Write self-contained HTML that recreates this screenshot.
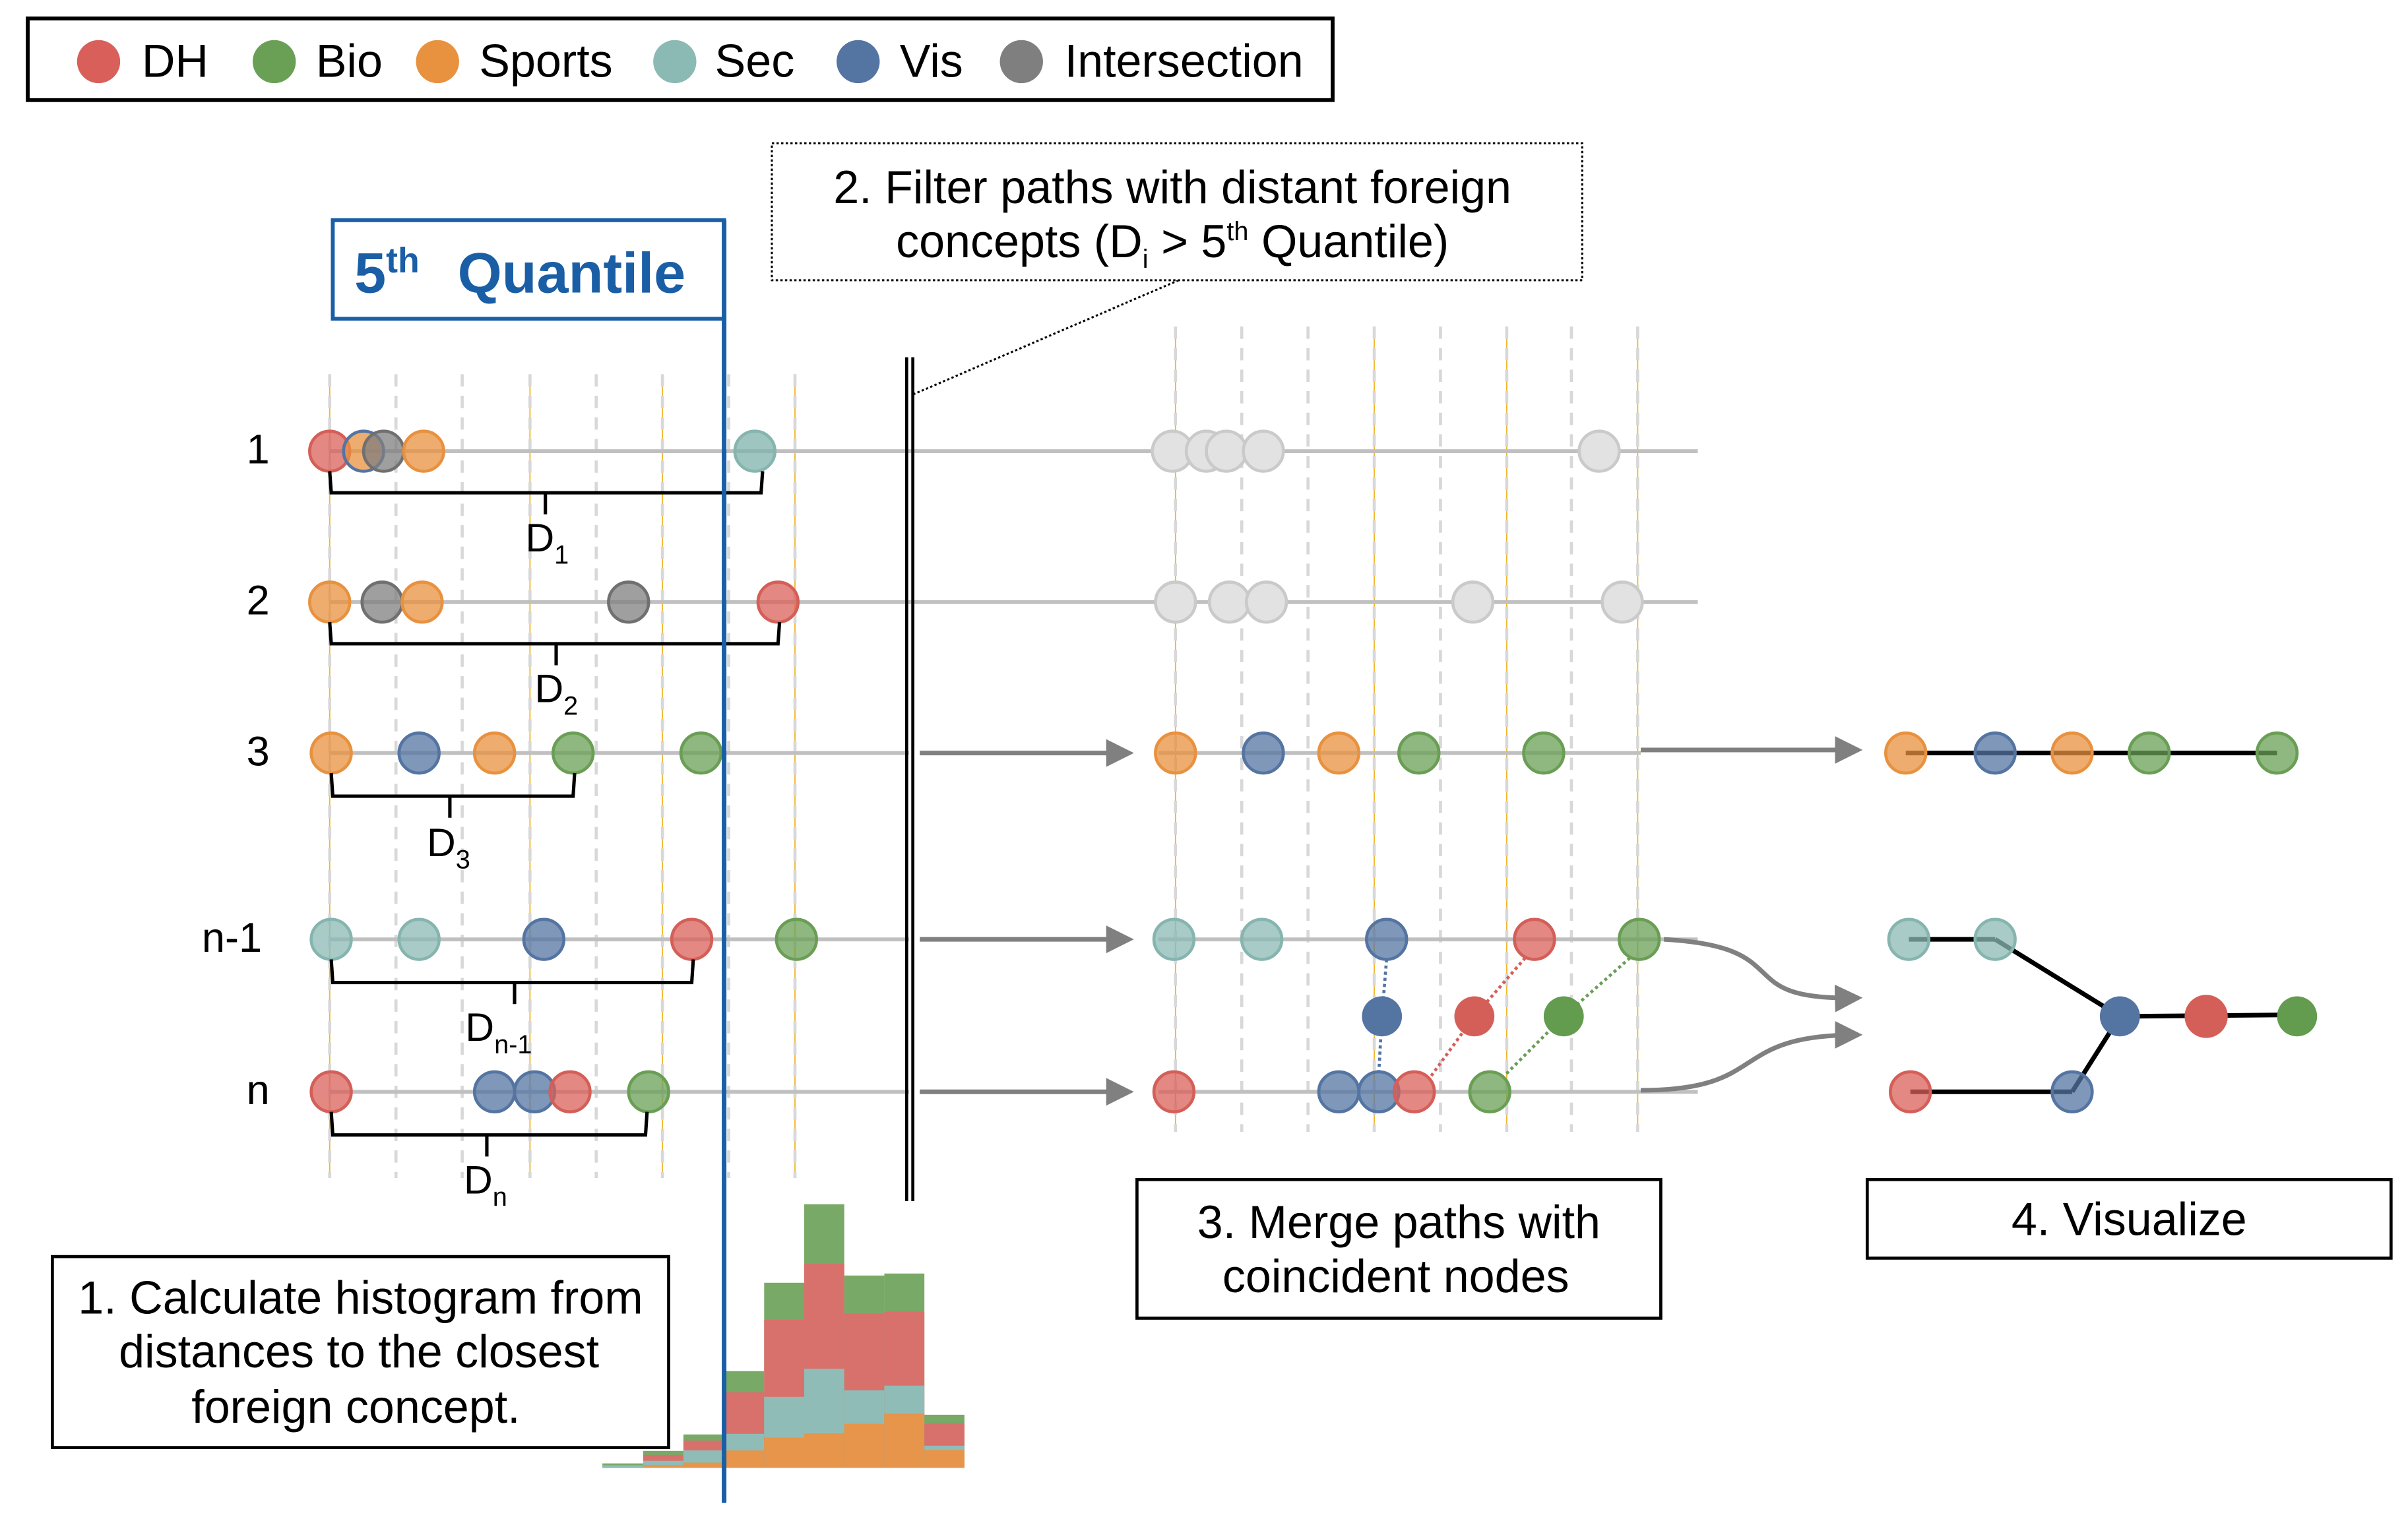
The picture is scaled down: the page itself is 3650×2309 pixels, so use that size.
<!DOCTYPE html>
<html><head><meta charset="utf-8"><style>
html,body{margin:0;padding:0;background:#fff;}
svg{display:block;}
text{font-family:"Liberation Sans",sans-serif;fill:#000;}
</style></head><body>
<svg width="3650" height="2309" viewBox="0 0 1563 989" preserveAspectRatio="none" xmlns="http://www.w3.org/2000/svg">
<defs>
<marker id="ah" markerWidth="6" markerHeight="6" refX="5" refY="3" orient="auto" markerUnits="strokeWidth"><path d="M0,0 L6,3 L0,6 z" fill="#808080"/></marker>
</defs>
<!-- legend -->
<rect x="18" y="12" width="847" height="53" fill="#fff" stroke="#000" stroke-width="2.5"/>
<g font-size="30">
<circle cx="64" cy="40" r="14" fill="#d9605a"/><text x="92" y="50">DH</text>
<circle cx="178" cy="40" r="14" fill="#6aa055"/><text x="205" y="50">Bio</text>
<circle cx="284" cy="40" r="14" fill="#e8913f"/><text x="311" y="50">Sports</text>
<circle cx="438" cy="40" r="14" fill="#8bbab5"/><text x="464" y="50">Sec</text>
<circle cx="557" cy="40" r="14" fill="#5474a2"/><text x="584" y="50">Vis</text>
<circle cx="663" cy="40" r="14" fill="#7f7f7f"/><text x="691" y="50">Intersection</text>
</g>
<!-- vertical grid -->
<g stroke="#f0b830" stroke-width="0.8"><line x1="214" y1="243" x2="214" y2="765"/><line x1="344" y1="243" x2="344" y2="765"/><line x1="430" y1="243" x2="430" y2="765"/><line x1="516" y1="243" x2="516" y2="765"/>
<line x1="763" y1="212" x2="763" y2="735"/><line x1="892" y1="212" x2="892" y2="735"/><line x1="978" y1="212" x2="978" y2="735"/><line x1="1063" y1="212" x2="1063" y2="735"/></g>
<g stroke="#d8d8d8" stroke-width="2" stroke-dasharray="8,6">
<line x1="214" y1="243" x2="214" y2="765"/><line x1="257" y1="243" x2="257" y2="765"/><line x1="300" y1="243" x2="300" y2="765"/><line x1="344" y1="243" x2="344" y2="765"/><line x1="387" y1="243" x2="387" y2="765"/><line x1="430" y1="243" x2="430" y2="765"/><line x1="473" y1="243" x2="473" y2="765"/><line x1="516" y1="243" x2="516" y2="765"/>
<line x1="763" y1="212" x2="763" y2="735"/><line x1="806" y1="212" x2="806" y2="735"/><line x1="849" y1="212" x2="849" y2="735"/><line x1="892" y1="212" x2="892" y2="735"/><line x1="935" y1="212" x2="935" y2="735"/><line x1="978" y1="212" x2="978" y2="735"/><line x1="1020" y1="212" x2="1020" y2="735"/><line x1="1063" y1="212" x2="1063" y2="735"/>
</g>
<!-- horizontal path lines -->
<g stroke="#c0c0c0" stroke-width="2.5">
<line x1="214" y1="293" x2="1102" y2="293"/><line x1="214" y1="391" x2="1102" y2="391"/>
<line x1="214" y1="489" x2="590" y2="489"/><line x1="752" y1="489" x2="1065" y2="489"/>
<line x1="214" y1="610" x2="590" y2="610"/><line x1="752" y1="610" x2="1102" y2="610"/>
<line x1="214" y1="709" x2="590" y2="709"/><line x1="752" y1="709" x2="1102" y2="709"/>
</g>
<g font-size="27">
<text x="160" y="301">1</text><text x="160" y="399">2</text><text x="160" y="497">3</text><text x="131" y="618">n-1</text><text x="160" y="717">n</text>
</g>
<!-- circles -->
<g stroke-width="2" fill-opacity="0.75">
<circle cx="214" cy="293" r="13" fill="#d9605a" stroke="#d45f58"/>
<circle cx="236" cy="293" r="13" fill="#e8913f" stroke="#5474a2"/>
<circle cx="249" cy="293" r="13" fill="#7f7f7f" stroke="#707070"/>
<circle cx="275" cy="293" r="13" fill="#e8913f" stroke="#e8913f"/>
<circle cx="490" cy="293" r="13" fill="#7fb2ac" stroke="#86b5b0"/>
<circle cx="214" cy="391" r="13" fill="#e8913f" stroke="#e8913f"/>
<circle cx="248" cy="391" r="13" fill="#7f7f7f" stroke="#707070"/>
<circle cx="274" cy="391" r="13" fill="#e8913f" stroke="#e8913f"/>
<circle cx="408" cy="391" r="13" fill="#7f7f7f" stroke="#707070"/>
<circle cx="505" cy="391" r="13" fill="#d9605a" stroke="#d45f58"/>
<circle cx="215" cy="489" r="13" fill="#e8913f" stroke="#e8913f"/>
<circle cx="272" cy="489" r="13" fill="#5474a2" stroke="#5474a2"/>
<circle cx="321" cy="489" r="13" fill="#e8913f" stroke="#e8913f"/>
<circle cx="372" cy="489" r="13" fill="#6aa055" stroke="#6a9e55"/>
<circle cx="455" cy="489" r="13" fill="#6aa055" stroke="#6a9e55"/>
<circle cx="215" cy="610" r="13" fill="#8bbab5" stroke="#86b5b0"/>
<circle cx="272" cy="610" r="13" fill="#8bbab5" stroke="#86b5b0"/>
<circle cx="353" cy="610" r="13" fill="#5474a2" stroke="#5474a2"/>
<circle cx="449" cy="610" r="13" fill="#d9605a" stroke="#d45f58"/>
<circle cx="517" cy="610" r="13" fill="#6aa055" stroke="#6a9e55"/>
<circle cx="215" cy="709" r="13" fill="#d9605a" stroke="#d45f58"/>
<circle cx="321" cy="709" r="13" fill="#5474a2" stroke="#5474a2"/>
<circle cx="347" cy="709" r="13" fill="#5474a2" stroke="#5474a2"/>
<circle cx="370" cy="709" r="13" fill="#d9605a" stroke="#d45f58"/>
<circle cx="421" cy="709" r="13" fill="#6aa055" stroke="#6a9e55"/>
<g fill="#e2e2e2" stroke="#cacaca" fill-opacity="1">
<circle cx="761" cy="293" r="13"/><circle cx="783" cy="293" r="13"/><circle cx="796" cy="293" r="13"/><circle cx="820" cy="293" r="13"/><circle cx="1038" cy="293" r="13"/>
<circle cx="763" cy="391" r="13"/><circle cx="798" cy="391" r="13"/><circle cx="822" cy="391" r="13"/><circle cx="956" cy="391" r="13"/><circle cx="1053" cy="391" r="13"/>
</g>
<circle cx="763" cy="489" r="13" fill="#e8913f" stroke="#e8913f"/>
<circle cx="820" cy="489" r="13" fill="#5474a2" stroke="#5474a2"/>
<circle cx="869" cy="489" r="13" fill="#e8913f" stroke="#e8913f"/>
<circle cx="921" cy="489" r="13" fill="#6aa055" stroke="#6a9e55"/>
<circle cx="1002" cy="489" r="13" fill="#6aa055" stroke="#6a9e55"/>
<circle cx="762" cy="610" r="13" fill="#8bbab5" stroke="#86b5b0"/>
<circle cx="819" cy="610" r="13" fill="#8bbab5" stroke="#86b5b0"/>
<circle cx="900" cy="610" r="13" fill="#5474a2" stroke="#5474a2"/>
<circle cx="996" cy="610" r="13" fill="#d9605a" stroke="#d45f58"/>
<circle cx="1064" cy="610" r="13" fill="#6aa055" stroke="#6a9e55"/>
<circle cx="762" cy="709" r="13" fill="#d9605a" stroke="#d45f58"/>
<circle cx="869" cy="709" r="13" fill="#5474a2" stroke="#5474a2"/>
<circle cx="895" cy="709" r="13" fill="#5474a2" stroke="#5474a2"/>
<circle cx="918" cy="709" r="13" fill="#d9605a" stroke="#d45f58"/>
<circle cx="967" cy="709" r="13" fill="#6aa055" stroke="#6a9e55"/>
</g>
<g stroke-width="2" stroke-dasharray="2,2" fill="none">
<polyline points="900,623 897,660 895,696" stroke="#5474a2"/>
<polyline points="990,622 957,660 928,700" stroke="#d45f58"/>
<polyline points="1058,622 1015,660 975,700" stroke="#6a9e55"/>
</g>
<circle cx="897" cy="660" r="13" fill="#5474a2"/>
<circle cx="957" cy="660" r="13" fill="#d45f58"/>
<circle cx="1015" cy="660" r="13" fill="#639b4f"/>
<!-- braces -->
<g stroke="#000" stroke-width="2.2" fill="none">
<path d="M214,306 L215,320 L494,320 L495,306 M354,320 L354,334"/>
<path d="M214,404 L215,418 L505,418 L506,404 M361,418 L361,432"/>
<path d="M215,502 L216,517 L372,517 L373,502 M292,517 L292,531"/>
<path d="M215,623 L216,638 L449,638 L450,623 M334,638 L334,652"/>
<path d="M215,722 L216,737 L419,737 L420,722 M316,737 L316,751"/>
</g>
<g font-size="26">
<text x="341" y="358">D<tspan font-size="17" dy="8">1</tspan></text>
<text x="347" y="456">D<tspan font-size="17" dy="8">2</tspan></text>
<text x="277" y="556">D<tspan font-size="17" dy="8">3</tspan></text>
<text x="302" y="676">D<tspan font-size="17" dy="8">n-1</tspan></text>
<text x="301" y="775">D<tspan font-size="17" dy="8">n</tspan></text>
</g>
<!-- quantile -->
<rect x="216" y="143" width="254" height="64" fill="#fff" stroke="#1a5ea6" stroke-width="2.5"/>
<text x="230" y="190" font-size="37" font-weight="bold" style="fill:#1a5ea6">5<tspan font-size="23" dy="-13">th</tspan><tspan dy="13" x="297">Quantile</tspan></text>
<!-- histogram -->
<g>
<rect x="391" y="950.3" width="26.5" height="3" fill="#79a966"/><rect x="391" y="951.5" width="26.5" height="1.7" fill="#90bcb7"/>
<rect x="417.5" y="942.2" width="26.1" height="11" fill="#79a966"/><rect x="417.5" y="944.8" width="26.1" height="8.4" fill="#d8706b"/><rect x="417.5" y="948.6" width="26.1" height="4.6" fill="#90bcb7"/><rect x="417.5" y="951.5" width="26.1" height="1.7" fill="#e6954a"/>
<rect x="443.6" y="931.5" width="26.2" height="21.7" fill="#79a966"/><rect x="443.6" y="935.5" width="26.2" height="17.7" fill="#d8706b"/><rect x="443.6" y="941.8" width="26.2" height="11.4" fill="#90bcb7"/><rect x="443.6" y="949.8" width="26.2" height="3.4" fill="#e6954a"/>
<rect x="469.8" y="890.4" width="26.2" height="62.8" fill="#79a966"/><rect x="469.8" y="904.1" width="26.2" height="49.1" fill="#d8706b"/><rect x="469.8" y="931.1" width="26.2" height="22.1" fill="#90bcb7"/><rect x="469.8" y="941.9" width="26.2" height="11.3" fill="#e6954a"/>
<rect x="496" y="833" width="26" height="120.2" fill="#79a966"/><rect x="496" y="857.1" width="26" height="96.1" fill="#d8706b"/><rect x="496" y="907.1" width="26" height="46.1" fill="#90bcb7"/><rect x="496" y="933.6" width="26" height="19.6" fill="#e6954a"/>
<rect x="522" y="782" width="26" height="171.2" fill="#79a966"/><rect x="522" y="820.7" width="26" height="132.5" fill="#d8706b"/><rect x="522" y="888.8" width="26" height="64.4" fill="#90bcb7"/><rect x="522" y="930.8" width="26" height="22.4" fill="#e6954a"/>
<rect x="548" y="828.3" width="26" height="124.9" fill="#79a966"/><rect x="548" y="853" width="26" height="100.2" fill="#d8706b"/><rect x="548" y="902.8" width="26" height="50.4" fill="#90bcb7"/><rect x="548" y="924.6" width="26" height="28.6" fill="#e6954a"/>
<rect x="574" y="827" width="26" height="126.2" fill="#79a966"/><rect x="574" y="851.8" width="26" height="101.4" fill="#d8706b"/><rect x="574" y="899.8" width="26" height="53.4" fill="#90bcb7"/><rect x="574" y="917.9" width="26" height="35.3" fill="#e6954a"/>
<rect x="600" y="918.7" width="26" height="34.5" fill="#79a966"/><rect x="600" y="924.4" width="26" height="28.8" fill="#d8706b"/><rect x="600" y="938.8" width="26" height="14.4" fill="#90bcb7"/><rect x="600" y="941.6" width="26" height="11.6" fill="#e6954a"/>
</g>
<line x1="470" y1="143" x2="470" y2="976" stroke="#1a5ea6" stroke-width="3"/>
<line x1="588.5" y1="232" x2="588.5" y2="780" stroke="#000" stroke-width="2"/>
<line x1="592.5" y1="232" x2="592.5" y2="780" stroke="#000" stroke-width="2"/>
<line x1="765" y1="182" x2="593" y2="256" stroke="#000" stroke-width="1.3" stroke-dasharray="1.5,1.5"/>
<rect x="501" y="93" width="526" height="89" fill="#fff" stroke="#000" stroke-width="1.3" stroke-dasharray="1.5,1.5"/>
<g font-size="30" text-anchor="middle">
<text x="761" y="132">2. Filter paths with distant foreign</text>
<text x="761" y="167">concepts (D<tspan font-size="17" dy="7">i</tspan><tspan dy="-7"> &gt; 5</tspan><tspan font-size="17" dy="-11">th</tspan><tspan dy="11"> Quantile)</tspan></text>
</g>
<g stroke="#808080" stroke-width="3" fill="none">
<line x1="597" y1="489" x2="733" y2="489" marker-end="url(#ah)"/>
<line x1="597" y1="610" x2="733" y2="610" marker-end="url(#ah)"/>
<line x1="597" y1="709" x2="733" y2="709" marker-end="url(#ah)"/>
<line x1="1065" y1="487" x2="1206" y2="487" marker-end="url(#ah)"/>
<path d="M1080,610 C1170,615 1120,650 1206,648" marker-end="url(#ah)"/>
<path d="M1065,708 C1150,708 1120,672 1206,672" marker-end="url(#ah)"/>
</g>
<g stroke="#000" stroke-width="3">
<line x1="1237" y1="489" x2="1478" y2="489"/>
<line x1="1239" y1="610" x2="1295" y2="610"/><line x1="1295" y1="610" x2="1376" y2="660"/>
<line x1="1376" y1="660" x2="1491" y2="659"/>
<line x1="1240" y1="709" x2="1345" y2="709"/><line x1="1345" y1="709" x2="1376" y2="660"/>
</g>
<g stroke-width="2" fill-opacity="0.75">
<circle cx="1237" cy="489" r="13" fill="#e8913f" stroke="#e8913f"/>
<circle cx="1295" cy="489" r="13" fill="#5474a2" stroke="#5474a2"/>
<circle cx="1345" cy="489" r="13" fill="#e8913f" stroke="#e8913f"/>
<circle cx="1395" cy="489" r="13" fill="#6aa055" stroke="#6a9e55"/>
<circle cx="1478" cy="489" r="13" fill="#6aa055" stroke="#6a9e55"/>
<circle cx="1239" cy="610" r="13" fill="#8bbab5" stroke="#86b5b0"/>
<circle cx="1295" cy="610" r="13" fill="#8bbab5" stroke="#86b5b0"/>
<circle cx="1240" cy="709" r="13" fill="#d9605a" stroke="#d45f58"/>
<circle cx="1345" cy="709" r="13" fill="#5474a2" stroke="#5474a2"/>
</g>
<circle cx="1376" cy="660" r="13" fill="#5474a2"/>
<circle cx="1432" cy="660" r="14" fill="#d45f58"/>
<circle cx="1491" cy="660" r="13" fill="#639b4f"/>
<rect x="738" y="766" width="340" height="90" fill="#fff" stroke="#000" stroke-width="2"/>
<rect x="1212" y="766" width="340" height="51" fill="#fff" stroke="#000" stroke-width="2"/>
<rect x="34" y="816" width="400" height="124" fill="#fff" stroke="#000" stroke-width="2"/>
<g font-size="30" text-anchor="middle">
<text x="908" y="804">3. Merge paths with</text>
<text x="906" y="839">coincident nodes</text>
<text x="1382" y="802">4. Visualize</text>
<text x="234" y="853">1. Calculate histogram from</text>
<text x="233" y="888">distances to the closest</text>
<text x="231" y="924">foreign concept.</text>
</g>
</svg>
</body></html>
